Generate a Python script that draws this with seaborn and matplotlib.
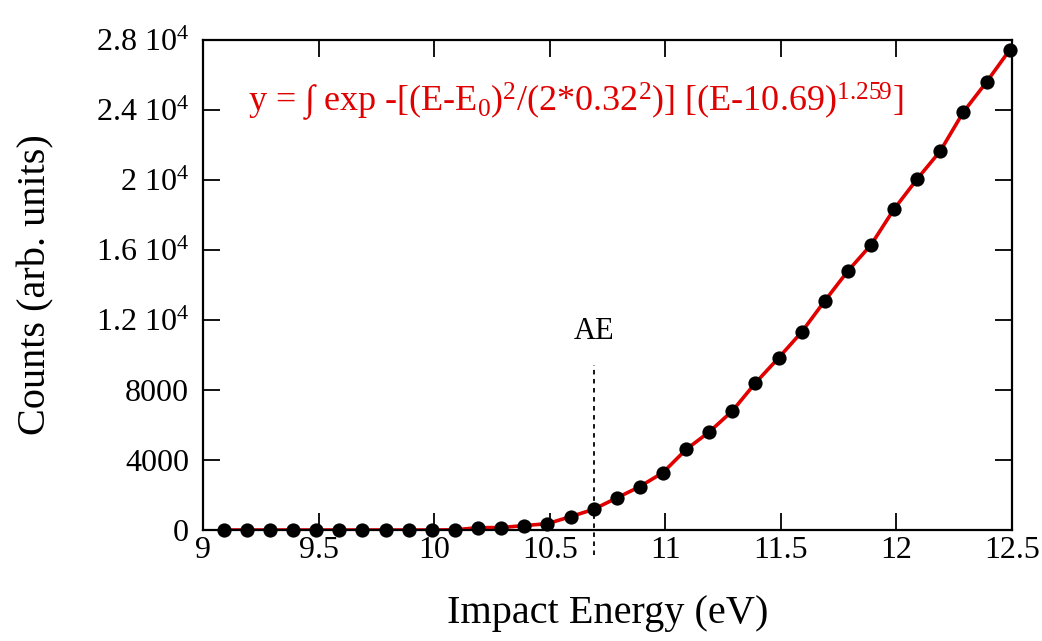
import numpy as np
import pandas as pd
import seaborn as sns
import matplotlib.pyplot as plt

energy = [9.09, 9.19, 9.29, 9.39, 9.49, 9.59, 9.69, 9.79, 9.89, 9.99,
          10.09, 10.19, 10.29, 10.39, 10.49, 10.59, 10.69, 10.79, 10.89, 10.99,
          11.09, 11.19, 11.29, 11.39, 11.49, 11.59, 11.69, 11.79, 11.89, 11.99,
          12.09, 12.19, 12.29, 12.39, 12.49]
counts = [0, 0, 0, 0, 0, 0, 0, 0, 0, 0,
          10, 130, 140, 250, 360, 760, 1180, 1830, 2480, 3280,
          4600, 5600, 6800, 8400, 9830, 11310, 13090, 14800, 16290, 18340,
          20060, 21660, 23890, 25600, 27430]
ae = 10.69
yticks = [0, 4000, 8000, 12000, 16000, 20000, 24000, 28000]
ytick_labels = ["0", "4000", "8000", r"1.2 10$^4$", r"1.6 10$^4$", r"2 10$^4$",
                r"2.4 10$^4$", r"2.8 10$^4$"]
xticks = [9, 9.5, 10, 10.5, 11, 11.5, 12, 12.5]
xtick_labels = ["9", "9.5", "10", "10.5", "11", "11.5", "12", "12.5"]

df = pd.DataFrame({"E": energy, "counts": counts})

sns.set_style("ticks")
plt.rcParams['font.family'] = ['Liberation Serif', 'DejaVu Serif']
plt.rcParams['mathtext.fontset'] = 'custom'
plt.rcParams['mathtext.rm'] = 'Liberation Serif'
plt.rcParams['mathtext.it'] = 'Liberation Serif'
plt.rcParams['mathtext.default'] = 'rm'
plt.rcParams['text.color'] = 'black'
plt.rcParams['axes.labelcolor'] = 'black'
plt.rcParams['xtick.color'] = 'black'
plt.rcParams['ytick.color'] = 'black'
plt.rcParams['axes.edgecolor'] = 'black'

fig = plt.figure(figsize=(10.42, 6.41), dpi=100)
ax = fig.add_axes([0.1948, 0.1732, 0.9712 - 0.1948, 0.9376 - 0.1732])

red = "#e00000"
sns.lineplot(data=df, x="E", y="counts", ax=ax, color=red, linewidth=2.6, zorder=2)
sns.scatterplot(data=df, x="E", y="counts", ax=ax, color="black", s=105,
                edgecolor="black", linewidth=0, zorder=3, clip_on=False)

ax.plot([ae, ae], [-1430, 9430], color="black", linestyle=(0, (2.5, 2.5)),
        linewidth=1.3, clip_on=False, zorder=4)
ax.text(ae, 11350, "AE", ha="center", va="center", fontsize=22)

ax.text(9.195, 24500,
        r"y = $\int$ exp -[(E-E$_0$)$^2$/(2*0.32$^2$)] [(E-10.69)$^{1.259}$]",
        color=red, fontsize=26, ha="left", va="center")

ax.set_xlim(9, 12.5)
ax.set_ylim(0, 28000)
ax.set_xticks(xticks)
ax.set_xticklabels(xtick_labels)
ax.set_yticks(yticks)
ax.set_yticklabels(ytick_labels)
ax.tick_params(direction="in", length=12, width=1.3, labelsize=23,
               top=True, right=True)
ax.tick_params(axis="x", pad=4)
ax.tick_params(axis="y", pad=10)
for s in ax.spines.values():
    s.set_linewidth(1.6)
    s.set_visible(True)

ax.set_xlabel("Impact Energy (eV)", fontsize=29, labelpad=22)
ax.set_ylabel("Counts (arb. units)", fontsize=29, labelpad=30)

fig.savefig("out.png", dpi=100)
